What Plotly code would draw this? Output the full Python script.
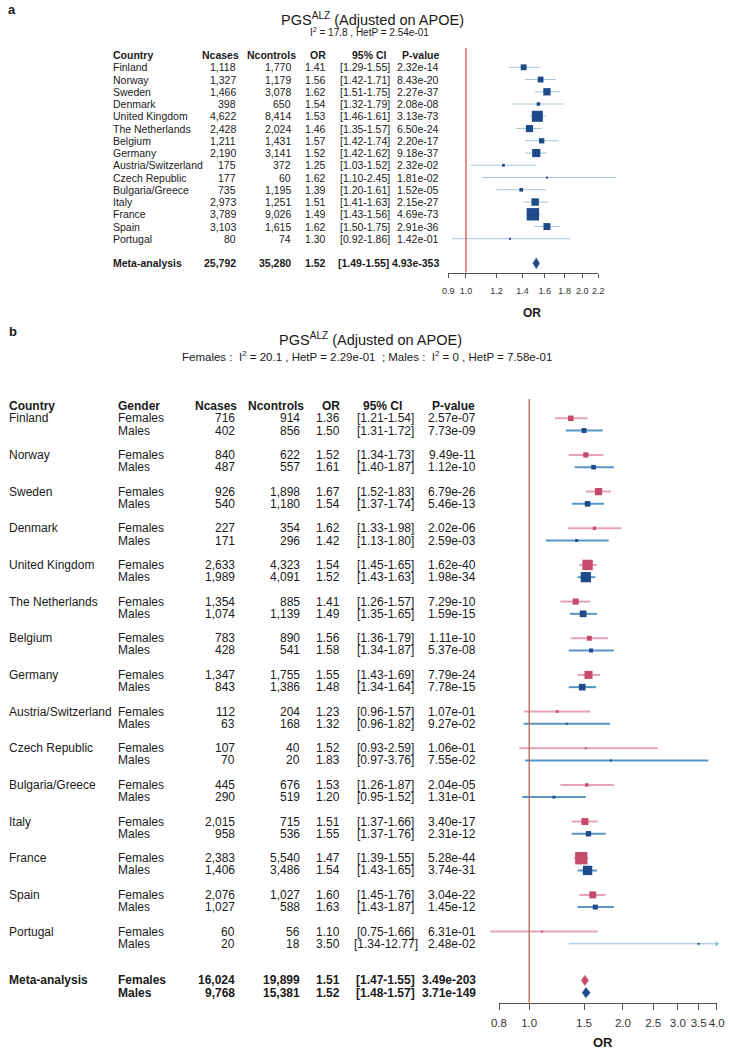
import math
import plotly.graph_objects as go

W, H = 729, 1051
FONT = "Liberation Sans, Arial, sans-serif"
TXT = "#1a1a1a"

# ================= Panel a : overall =================
countries = ["Finland", "Norway", "Sweden", "Denmark", "United Kingdom", "The Netherlands",
             "Belgium", "Germany", "Austria/Switzerland", "Czech Republic", "Bulgaria/Greece",
             "Italy", "France", "Spain", "Portugal"]
ncases_a = [1118, 1327, 1466, 398, 4622, 2428, 1211, 2190, 175, 177, 735, 2973, 3789, 3103, 80]
ncontrols_a = [1770, 1179, 3078, 650, 8414, 2024, 1431, 3141, 372, 60, 1195, 1251, 9026, 1615, 74]
or_a = [1.41, 1.56, 1.62, 1.54, 1.53, 1.46, 1.57, 1.52, 1.25, 1.62, 1.39, 1.51, 1.49, 1.62, 1.30]
lo_a = [1.29, 1.42, 1.51, 1.32, 1.46, 1.35, 1.42, 1.42, 1.03, 1.10, 1.20, 1.41, 1.43, 1.50, 0.92]
hi_a = [1.55, 1.71, 1.75, 1.79, 1.61, 1.57, 1.74, 1.62, 1.52, 2.45, 1.61, 1.63, 1.56, 1.75, 1.86]
pval_a = ["2.32e-14", "8.43e-20", "2.27e-37", "2.08e-08", "3.13e-73", "6.50e-24", "2.20e-17",
          "9.18e-37", "2.32e-02", "1.81e-02", "1.52e-05", "2.15e-27", "4.69e-73", "2.91e-36",
          "1.42e-01"]
meta_a = ["Meta-analysis"]
meta_ncases_a = [25792]
meta_ncontrols_a = [35280]
meta_or_a = [1.52]
meta_lo_a = [1.49]
meta_hi_a = [1.55]
meta_p_a = ["4.93e-353"]
ticks_a = [0.9, 1.0, 1.2, 1.4, 1.6, 1.8, 2.0, 2.2]
i2_a, hetp_a = "17.8", "2.54e-01"

# ================= Panel b : by gender =================
ncases_f = [716, 840, 926, 227, 2633, 1354, 783, 1347, 112, 107, 445, 2015, 2383, 2076, 60]
ncontrols_f = [914, 622, 1898, 354, 4323, 885, 890, 1755, 204, 40, 676, 715, 5540, 1027, 56]
or_f = [1.36, 1.52, 1.67, 1.62, 1.54, 1.41, 1.56, 1.55, 1.23, 1.52, 1.53, 1.51, 1.47, 1.60, 1.10]
lo_f = [1.21, 1.34, 1.52, 1.33, 1.45, 1.26, 1.36, 1.43, 0.96, 0.93, 1.26, 1.37, 1.39, 1.45, 0.75]
hi_f = [1.54, 1.73, 1.83, 1.98, 1.65, 1.57, 1.79, 1.69, 1.57, 2.59, 1.87, 1.66, 1.55, 1.76, 1.66]
pval_f = ["2.57e-07", "9.49e-11", "6.79e-26", "2.02e-06", "1.62e-40", "7.29e-10", "1.11e-10",
          "7.79e-24", "1.07e-01", "1.06e-01", "2.04e-05", "3.40e-17", "5.28e-44", "3.04e-22",
          "6.31e-01"]

ncases_m = [402, 487, 540, 171, 1989, 1074, 428, 843, 63, 70, 290, 958, 1406, 1027, 20]
ncontrols_m = [856, 557, 1180, 296, 4091, 1139, 541, 1386, 168, 20, 519, 536, 3486, 588, 18]
or_m = [1.50, 1.61, 1.54, 1.42, 1.52, 1.49, 1.58, 1.48, 1.32, 1.83, 1.20, 1.55, 1.54, 1.63, 3.50]
lo_m = [1.31, 1.40, 1.37, 1.13, 1.43, 1.35, 1.34, 1.34, 0.96, 0.97, 0.95, 1.37, 1.43, 1.43, 1.34]
hi_m = [1.72, 1.87, 1.74, 1.80, 1.63, 1.65, 1.87, 1.64, 1.82, 3.76, 1.52, 1.76, 1.65, 1.87, 12.77]
pval_m = ["7.73e-09", "1.12e-10", "5.46e-13", "2.59e-03", "1.98e-34", "1.59e-15", "5.37e-08",
          "7.78e-15", "9.27e-02", "7.55e-02", "1.31e-01", "2.31e-12", "3.74e-31", "1.45e-12",
          "2.48e-02"]

meta_gender = ["Females", "Males"]
meta_ncases_b = [16024, 9768]
meta_ncontrols_b = [19899, 15381]
meta_or_b = [1.51, 1.52]
meta_lo_b = [1.47, 1.48]
meta_hi_b = [1.55, 1.57]
meta_p_b = ["3.49e-203", "3.71e-149"]
ticks_b = [0.8, 1.0, 1.5, 2.0, 2.5, 3.0, 3.5, 4.0]
i2_f, hetp_f, i2_m, hetp_m = "20.1", "2.29e-01", "0", "7.58e-01"

# ================= colours =================
A_BOX, A_CI, A_REF = "#1f4a8a", "#a3c6da", "#d4524a"
F_BOX, F_CI = "#c64a6c", "#e8a2b6"
M_BOX, M_CI = "#1f4a8a", "#5797c7"
B_REF = "#b8654f"
AX = "#555555"


# ================= helpers =================
def row_axis(px_top, px_bot, row1_px, pitch):
    r_top = 1 + (px_top - row1_px) / pitch
    r_bot = 1 + (px_bot - row1_px) / pitch
    return [1 - px_bot / H, 1 - px_top / H], [r_bot, r_top]


def log_axes(vmin, vmax, pmin, pmax, dmin, dmax):
    dec = (pmax - pmin) / (math.log10(vmax) - math.log10(vmin))
    tick_dom = [pmin / W, pmax / W]
    tick_rng = [math.log10(vmin), math.log10(vmax)]
    data_dom = [dmin / W, dmax / W]
    data_rng = [math.log10(vmin) - (pmin - dmin) / dec, math.log10(vmax) + (dmax - pmax) / dec]
    return tick_dom, tick_rng, data_dom, data_rng


def box_sizes(lo, hi, k, smin=2.0):
    return [max(smin, k / math.log(h / l)) for l, h in zip(lo, hi)]


annotations = []


def txt(x_px, y, s, anchor="left", size=11, bold=False, yref="paper", color=TXT):
    if yref == "paper":
        y = 1 - y / H
    annotations.append(dict(
        x=x_px / W, xref="paper", y=y, yref=yref,
        text=f"<b>{s}</b>" if bold else s, showarrow=False,
        xanchor=anchor, yanchor="middle", borderpad=0,
        font=dict(family=FONT, size=size, color=color)))


fig = go.Figure()

# ================= Panel a layout =================
A_ROW1, A_PITCH, A_TOP, A_BOT = 67.3, 12.25, 48.0, 272.7
ya_dom, ya_rng = row_axis(A_TOP, A_BOT, A_ROW1, A_PITCH)
ta_dom, ta_rng, da_dom, da_rng = log_axes(ticks_a[0], ticks_a[-1], 448.3, 598.3, 425, 630)
rows_a = [i + 1 for i in range(len(countries))]
meta_row_a = len(countries) + 2

fig.add_trace(go.Scatter(x=[1, 1], y=[ya_rng[1], ya_rng[0]], mode="lines",
                         line=dict(color=A_REF, width=1.3), xaxis="x2", yaxis="y",
                         hoverinfo="skip", showlegend=False))
wx, wy = [], []
for r, l, h in zip(rows_a, lo_a, hi_a):
    wx += [l, h, None]
    wy += [r, r, None]
fig.add_trace(go.Scatter(x=wx, y=wy, mode="lines", line=dict(color=A_CI, width=1.1),
                         xaxis="x", yaxis="y", hoverinfo="skip", showlegend=False))
fig.add_trace(go.Scatter(x=or_a, y=rows_a, mode="markers",
                         marker=dict(symbol="square", size=box_sizes(lo_a, hi_a, 1.08), color=A_BOX,
                                     opacity=1, line=dict(width=0)),
                         xaxis="x", yaxis="y", hoverinfo="skip", showlegend=False, cliponaxis=False))
for o, l, h in zip(meta_or_a, meta_lo_a, meta_hi_a):
    hh = 0.44
    fig.add_trace(go.Scatter(x=[l, o, h, o, l], y=[meta_row_a, meta_row_a - hh, meta_row_a,
                                                    meta_row_a + hh, meta_row_a],
                             mode="lines", fill="toself", fillcolor=A_BOX, line=dict(color=A_BOX, width=0.5),
                             xaxis="x", yaxis="y", hoverinfo="skip", showlegend=False))

FA = 10.5
cols_a = dict(country=112, ncases=237, ncontrols=292, orv=327, ci=365, p=440)
txt(cols_a["country"], 0, "Country", "left", FA, True, "y")
txt(240, 0, "Ncases", "right", FA, True, "y")
txt(297, 0, "Ncontrols", "right", FA, True, "y")
txt(327, 0, "OR", "right", FA, True, "y")
txt(369, 0, "95% CI", "center", FA, True, "y")
txt(441, 0, "P-value", "right", FA, True, "y")
for r, c, nc, nn, o, l, h, p in zip(rows_a, countries, ncases_a, ncontrols_a, or_a, lo_a, hi_a, pval_a):
    txt(cols_a["country"], r, c, "left", FA, False, "y")
    txt(cols_a["ncases"], r, f"{nc:,}", "right", FA, False, "y")
    txt(cols_a["ncontrols"], r, f"{nn:,}", "right", FA, False, "y")
    txt(cols_a["orv"], r, f"{o:.2f}", "right", FA, False, "y")
    txt(cols_a["ci"], r, f"[{l:.2f}-{h:.2f}]", "center", FA, False, "y")
    txt(cols_a["p"], r, p, "right", FA, False, "y")
for lab, nc, nn, o, l, h, p in zip(meta_a, meta_ncases_a, meta_ncontrols_a, meta_or_a, meta_lo_a,
                                   meta_hi_a, meta_p_a):
    txt(cols_a["country"], meta_row_a, lab, "left", FA, True, "y")
    txt(cols_a["ncases"], meta_row_a, f"{nc:,}", "right", FA, True, "y")
    txt(cols_a["ncontrols"], meta_row_a, f"{nn:,}", "right", FA, True, "y")
    txt(cols_a["orv"], meta_row_a, f"{o:.2f}", "right", FA, True, "y")
    txt(cols_a["ci"] - 2, meta_row_a, f"[{l:.2f}-{h:.2f}]", "center", FA, True, "y")
    txt(cols_a["p"], meta_row_a, p, "right", FA, True, "y")

txt(7, 10, "a", "left", 13, True)
txt(372, 19, "PGS<sup>ALZ</sup> (Adjusted on APOE)", "center", 14.5)
txt(369, 32, f"I<sup>2</sup> = {i2_a} , HetP = {hetp_a}", "center", 10)
txt(532, 313, "OR", "center", 12, True)

# ================= Panel b layout =================
B_ROW1, B_PITCH, B_TOP, B_BOT = 418.3, 12.22, 399.0, 1002.7
yb_dom, yb_rng = row_axis(B_TOP, B_BOT, B_ROW1, B_PITCH)
tb_dom, tb_rng, db_dom, db_rng = log_axes(ticks_b[0], ticks_b[-1], 499.0, 716.7, 480, 726)
rows_f = [1 + 3 * i for i in range(len(countries))]
rows_m = [2 + 3 * i for i in range(len(countries))]
meta_rows_b = [rows_f[-1] + 4, rows_f[-1] + 5]
xmax_b = ticks_b[-1]

fig.add_trace(go.Scatter(x=[1, 1], y=[yb_rng[1], yb_rng[0]], mode="lines",
                         line=dict(color=B_REF, width=1.3), xaxis="x4", yaxis="y2",
                         hoverinfo="skip", showlegend=False))

for rows, lo, hi, orv, cbox, cci in [(rows_f, lo_f, hi_f, or_f, F_BOX, F_CI),
                                     (rows_m, lo_m, hi_m, or_m, M_BOX, M_CI)]:
    wx, wy, cx, cy, ax_, ay_ = [], [], [], [], [], []
    for r, l, h in zip(rows, lo, hi):
        if h > xmax_b:
            cx += [l, xmax_b, None]
            cy += [r, r, None]
            ax_.append(xmax_b)
            ay_.append(r)
        else:
            wx += [l, h, None]
            wy += [r, r, None]
    fig.add_trace(go.Scatter(x=wx, y=wy, mode="lines", line=dict(color=cci, width=2),
                             xaxis="x3", yaxis="y2", hoverinfo="skip", showlegend=False))
    if cx:
        fig.add_trace(go.Scatter(x=cx, y=cy, mode="lines", line=dict(color="#8ec0da", width=1),
                                 xaxis="x3", yaxis="y2", hoverinfo="skip", showlegend=False))
        fig.add_trace(go.Scatter(x=ax_, y=ay_, mode="markers",
                                 marker=dict(symbol="triangle-right", size=5, color="#8ec0da"),
                                 xaxis="x3", yaxis="y2", hoverinfo="skip", showlegend=False,
                                 cliponaxis=False))
    fig.add_trace(go.Scatter(x=orv, y=rows, mode="markers",
                             marker=dict(symbol="square", size=box_sizes(lo, hi, 1.34), color=cbox,
                                         opacity=1, line=dict(width=0)),
                             xaxis="x3", yaxis="y2", hoverinfo="skip", showlegend=False, cliponaxis=False))

for r, o, l, h, c in zip(meta_rows_b, meta_or_b, meta_lo_b, meta_hi_b, [F_BOX, M_BOX]):
    hh = 0.42
    fig.add_trace(go.Scatter(x=[l, o, h, o, l], y=[r, r - hh, r, r + hh, r],
                             mode="lines", fill="toself", fillcolor=c, line=dict(color=c, width=0.5),
                             xaxis="x3", yaxis="y2", hoverinfo="skip", showlegend=False))

FB = 12
cols_b = dict(country=8, gender=117, ncases=236, ncontrols=301, orv=341, ci=385.5, p=477)
txt(8, 0, "Country", "left", FB, True, "y2")
txt(117, 0, "Gender", "left", FB, True, "y2")
txt(238, 0, "Ncases", "right", FB, True, "y2")
txt(305, 0, "Ncontrols", "right", FB, True, "y2")
txt(341, 0, "OR", "right", FB, True, "y2")
txt(382, 0, "95% CI", "center", FB, True, "y2")
txt(476, 0, "P-value", "right", FB, True, "y2")
for i, c in enumerate(countries):
    txt(cols_b["country"], rows_f[i], c, "left", FB, False, "y2")
    for r, g, nc, nn, o, l, h, p in [
        (rows_f[i], "Females", ncases_f[i], ncontrols_f[i], or_f[i], lo_f[i], hi_f[i], pval_f[i]),
        (rows_m[i], "Males", ncases_m[i], ncontrols_m[i], or_m[i], lo_m[i], hi_m[i], pval_m[i])]:
        txt(cols_b["gender"], r, g, "left", FB, False, "y2")
        txt(cols_b["ncases"], r, f"{nc:,}", "right", FB, False, "y2")
        txt(cols_b["ncontrols"], r, f"{nn:,}", "right", FB, False, "y2")
        txt(cols_b["orv"], r, f"{o:.2f}", "right", FB, False, "y2")
        txt(cols_b["ci"], r, f"[{l:.2f}-{h:.2f}]", "center", FB, False, "y2")
        txt(cols_b["p"], r, p, "right", FB, False, "y2")
txt(cols_b["country"], meta_rows_b[0], "Meta-analysis", "left", FB, True, "y2")
for r, g, nc, nn, o, l, h, p in zip(meta_rows_b, meta_gender, meta_ncases_b, meta_ncontrols_b,
                                    meta_or_b, meta_lo_b, meta_hi_b, meta_p_b):
    txt(cols_b["gender"], r, g, "left", FB, True, "y2")
    txt(cols_b["ncases"], r, f"{nc:,}", "right", FB, True, "y2")
    txt(cols_b["ncontrols"], r, f"{nn:,}", "right", FB, True, "y2")
    txt(cols_b["orv"], r, f"{o:.2f}", "right", FB, True, "y2")
    txt(cols_b["ci"], r, f"[{l:.2f}-{h:.2f}]", "center", FB, True, "y2")
    txt(cols_b["p"], r, p, "right", FB, True, "y2")

txt(8, 332, "b", "left", 13, True)
txt(370, 339, "PGS<sup>ALZ</sup> (Adjusted on APOE)", "center", 14.5)
txt(367, 356, f"Females :  I<sup>2</sup> = {i2_f} , HetP = {hetp_f}  ; Males :  I<sup>2</sup> = {i2_m} , HetP = {hetp_m}",
    "center", 11.5)
txt(603, 1042, "OR", "center", 13, True)

# ================= axes =================
hidden = dict(visible=False, showgrid=False, zeroline=False, fixedrange=True)


def tick_axis(dom, rng, ticks, anchor, size, ticklen, standoff):
    return dict(type="log", domain=dom, range=rng, anchor=anchor, showline=True, linecolor=AX,
                linewidth=1, ticks="outside", ticklen=ticklen, tickwidth=1, tickcolor=AX,
                tickvals=ticks, ticktext=[f"{t:.1f}" for t in ticks], tickangle=0,
                ticklabelstandoff=standoff,
                showgrid=False, zeroline=False,
                tickfont=dict(family=FONT, size=size, color="#333333"), fixedrange=True)


fig.update_layout(
    width=W, height=H, margin=dict(l=0, r=0, t=0, b=0, autoexpand=False),
    paper_bgcolor="white", plot_bgcolor="rgba(0,0,0,0)",
    showlegend=False, annotations=annotations,
    xaxis=dict(type="log", domain=da_dom, range=da_rng, anchor="y", **hidden),
    xaxis2=tick_axis(ta_dom, ta_rng, ticks_a, "y", 9, 4, 5),
    yaxis=dict(domain=ya_dom, range=ya_rng, anchor="x", **hidden),
    xaxis3=dict(type="log", domain=db_dom, range=db_rng, anchor="y2", **hidden),
    xaxis4=tick_axis(tb_dom, tb_rng, ticks_b, "y2", 11.5, 6, 3),
    yaxis2=dict(domain=yb_dom, range=yb_rng, anchor="x3", **hidden),
)

fig.write_html("out.html", config={"displayModeBar": False},
               post_script="document.body.style.margin='0px';")
